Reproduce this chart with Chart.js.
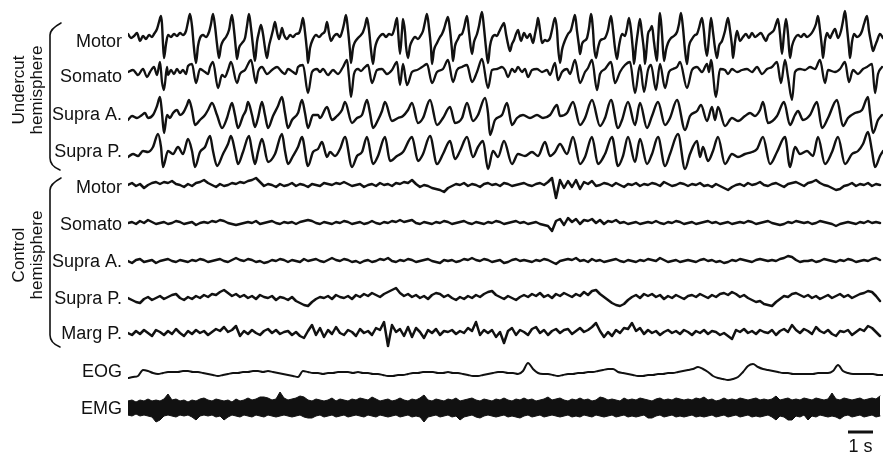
<!DOCTYPE html>
<html><head><meta charset="utf-8">
<script src="https://cdn.jsdelivr.net/npm/chart.js@4/dist/chart.umd.min.js"></script>
<style>html,body{margin:0;padding:0;background:#fff;}#wrap{width:892px;height:461px;}</style>
</head><body><div id="wrap"><canvas id="c" width="892" height="461"></canvas></div>
<script>
// ---- DATA (time in s, amplitude in arbitrary display units, up = positive) ----
const traceLabels = ['Motor','Somato','Supra A.','Supra P.','Motor','Somato','Supra A.','Supra P.','Marg P.','EOG','EMG'];
const groupLabels = [['Undercut','hemisphere'],['Control','hemisphere']];
const scaleBarLabel = '1 s';

// Undercut hemisphere: [time s, amplitude]
const uMotor = [[0,2],[0.12,-2],[0.24,0],[0.36,3],[0.48,-5],[0.6,0],[0.72,-3],[0.84,1],[0.96,-1],[1.04,2],[1.16,7],[1.24,14],[1.32,20],[1.36,12],[1.4,-8],[1.44,-22],[1.52,-8],[1.6,1],[1.72,-1],[1.84,2],[1.96,0],[2.08,3],[2.2,1],[2.32,5],[2.4,14],[2.48,22],[2.56,10],[2.64,-12],[2.72,-27],[2.8,-10],[2.88,-2],[3,1],[3.12,-1],[3.24,4],[3.32,12],[3.4,22],[3.48,10],[3.56,-8],[3.64,-22],[3.72,-10],[3.8,-5],[3.92,-1],[4.04,6],[4.16,21],[4.24,6],[4.32,-14],[4.36,-23],[4.44,-12],[4.56,-7],[4.68,-2],[4.76,10],[4.84,22],[4.92,8],[5,-10],[5.08,-25],[5.16,-6],[5.24,4],[5.32,11],[5.4,2],[5.48,-12],[5.56,-22],[5.64,-10],[5.72,-2],[5.8,6],[5.88,14],[5.96,4],[6.04,-3],[6.12,4],[6.16,8],[6.24,1],[6.36,-3],[6.48,1],[6.6,-1],[6.72,2],[6.84,3],[6.92,9],[7,18],[7.08,4],[7.16,-15],[7.2,-27],[7.28,-12],[7.4,-3],[7.52,1],[7.64,-1],[7.76,2],[7.88,5],[7.96,14],[8.04,3],[8.12,-5],[8.24,0],[8.36,2],[8.48,-1],[8.56,4],[8.64,12],[8.72,21],[8.8,6],[8.88,-15],[8.92,-27],[9,-12],[9.08,-6],[9.2,-2],[9.32,1],[9.4,4],[9.48,10],[9.56,18],[9.64,6],[9.72,-14],[9.8,-28],[9.88,-12],[9.96,-5],[10.08,0],[10.2,2],[10.32,-1],[10.44,2],[10.56,1],[10.64,6],[10.76,18],[10.8,6],[10.88,-18],[10.96,5],[11,17],[11.08,4],[11.12,-10],[11.2,-22],[11.28,-10],[11.36,-5],[11.48,-1],[11.6,-3],[11.72,1],[11.8,5],[11.88,14],[11.96,22],[12.04,8],[12.12,-12],[12.16,-28],[12.24,-14],[12.36,-7],[12.48,-1],[12.56,2],[12.64,7],[12.72,14],[12.8,19],[12.88,6],[12.96,-14],[13,-25],[13.08,-10],[13.2,-3],[13.28,1],[13.36,2],[13.44,8],[13.56,20],[13.64,4],[13.76,-18],[13.84,-6],[13.96,2],[14.04,10],[14.16,24],[14.24,8],[14.32,-12],[14.4,-27],[14.48,-10],[14.56,-2],[14.68,1],[14.76,0],[14.84,4],[14.96,10],[15.04,13],[15.12,2],[15.2,-8],[15.28,-15],[15.36,-8],[15.44,-4],[15.52,2],[15.6,6],[15.68,-2],[15.72,-5],[15.84,3],[15.96,-2],[16.08,2],[16.2,-7],[16.28,2],[16.36,12],[16.4,18],[16.48,6],[16.56,-7],[16.68,-4],[16.76,-5],[16.88,-2],[16.96,6],[17.08,18],[17.16,6],[17.2,-10],[17.28,-27],[17.36,-14],[17.44,-7],[17.52,-2],[17.6,2],[17.72,6],[17.8,14],[17.88,21],[17.96,5],[18.04,-10],[18.08,-18],[18.16,-8],[18.24,-5],[18.36,-2],[18.44,8],[18.52,22],[18.6,6],[18.64,-10],[18.72,-22],[18.8,-12],[18.88,-5],[19,-3],[19.08,-2],[19.2,6],[19.32,20],[19.4,6],[19.48,-12],[19.56,-23],[19.64,-10],[19.76,2],[19.88,0],[19.96,8],[20.04,18],[20.12,6],[20.2,-15],[20.24,-28],[20.32,-10],[20.4,5],[20.48,17],[20.56,2],[20.64,-15],[20.68,-28],[20.76,-8],[20.8,2],[20.88,6],[20.96,10],[21.04,-6],[21.16,-25],[21.2,-6],[21.28,23],[21.36,2],[21.44,-25],[21.52,-14],[21.6,-7],[21.72,-2],[21.84,0],[21.96,4],[22.04,12],[22.12,23],[22.2,8],[22.28,-14],[22.36,-28],[22.44,-10],[22.56,-3],[22.68,1],[22.76,2],[22.84,8],[22.96,18],[23.04,4],[23.08,-8],[23.16,-20],[23.24,-2],[23.32,18],[23.4,4],[23.48,-12],[23.56,-22],[23.64,-10],[23.76,-5],[23.88,5],[24,18],[24.08,6],[24.16,-10],[24.2,-22],[24.28,-6],[24.36,5],[24.48,-5],[24.6,-1],[24.72,2],[24.84,-2],[24.96,3],[25.08,-1],[25.2,1],[25.32,3],[25.44,-2],[25.52,-5],[25.6,0],[25.72,3],[25.84,6],[25.92,12],[26,17],[26.08,2],[26.16,-18],[26.24,2],[26.32,17],[26.4,2],[26.48,-22],[26.56,-10],[26.68,-2],[26.8,1],[26.92,-1],[27.04,2],[27.16,-1],[27.28,1],[27.4,5],[27.52,12],[27.6,20],[27.68,6],[27.76,-12],[27.8,-22],[27.88,-5],[27.96,3],[28.08,-2],[28.16,2],[28.28,7],[28.4,-2],[28.52,5],[28.6,15],[28.68,25],[28.76,8],[28.84,-12],[28.88,-22],[28.96,-6],[29.04,2],[29.16,-1],[29.28,1],[29.36,5],[29.44,12],[29.56,20],[29.64,5],[29.72,-6],[29.8,-15],[29.88,-10],[29.96,-5],[30.08,2],[30.2,-2]];

const uSomato = [[0,0],[0.2,2],[0.4,-3],[0.6,3],[0.76,-5],[0.88,0],[1.04,5],[1.16,-3],[1.28,10],[1.36,-10],[1.44,-18],[1.56,5],[1.6,-3],[1.72,2],[1.84,-2],[1.96,3],[2.08,-1],[2.2,2],[2.32,-2],[2.4,6],[2.56,8],[2.72,-11],[2.88,3],[3.08,0],[3.2,-2],[3.28,5],[3.4,10],[3.6,-16],[3.76,-3],[3.88,-5],[4,2],[4.12,10],[4.36,-11],[4.48,-2],[4.68,2],[4.92,12],[5.12,-11],[5.2,0],[5.36,5],[5.56,-2],[5.76,2],[5.96,5],[6.16,0],[6.28,-2],[6.4,3],[6.6,0],[6.72,-2],[6.8,5],[7,7],[7.2,-21],[7.36,0],[7.56,3],[7.68,0],[7.8,3],[8,-3],[8.2,2],[8.4,-2],[8.6,5],[8.76,12],[8.84,-5],[8.92,-25],[9.04,-2],[9.2,3],[9.32,1],[9.44,4],[9.6,7],[9.76,-11],[9.96,2],[10.16,3],[10.36,-2],[10.56,2],[10.76,10],[10.88,-13],[11,8],[11.16,-13],[11.36,0],[11.56,2],[11.76,5],[11.96,8],[12.16,-11],[12.36,0],[12.6,3],[12.8,12],[13,-10],[13.16,2],[13.36,5],[13.56,7],[13.76,-10],[13.96,0],[14.16,13],[14.4,-16],[14.56,2],[14.76,3],[14.96,5],[15.08,2],[15.2,-5],[15.36,3],[15.48,0],[15.6,5],[15.76,0],[15.88,3],[16,-5],[16.16,2],[16.36,3],[16.56,0],[16.76,2],[16.88,-3],[17.08,9],[17.2,-8],[17.36,0],[17.56,3],[17.68,-2],[17.88,12],[18.08,-11],[18.28,0],[18.4,4],[18.56,12],[18.76,-18],[18.88,-2],[19.08,3],[19.32,10],[19.48,-11],[19.68,0],[19.88,7],[20.08,10],[20.28,-21],[20.48,7],[20.64,-20],[20.8,2],[20.92,7],[21.12,-18],[21.28,8],[21.48,-16],[21.64,0],[21.8,3],[21.96,5],[22.08,10],[22.36,-16],[22.56,2],[22.76,5],[22.96,0],[23.16,8],[23.24,0],[23.32,12],[23.52,-25],[23.68,3],[23.88,2],[24,-2],[24.16,3],[24.36,0],[24.56,2],[24.76,3],[24.96,0],[25.16,5],[25.36,-2],[25.56,3],[25.76,5],[25.96,10],[26.12,-11],[26.28,12],[26.4,-5],[26.56,-28],[26.68,0],[26.88,3],[27.08,2],[27.28,5],[27.48,3],[27.68,12],[27.88,-11],[28,2],[28.28,0],[28.48,3],[28.68,10],[28.84,-10],[29,2],[29.2,-2],[29.4,3],[29.56,5],[29.76,8],[29.88,-21],[30,-2],[30.16,5]];

const uSupraA = [[0,-2],[0.16,2],[0.36,0],[0.56,3],[0.68,5],[0.8,0],[1,3],[1.16,12],[1.28,21],[1.36,5],[1.44,-15],[1.56,3],[1.68,0],[1.8,5],[1.96,8],[2.08,3],[2.2,5],[2.36,13],[2.44,18],[2.56,8],[2.68,-7],[2.88,-2],[3.08,3],[3.2,8],[3.36,15],[3.56,3],[3.76,-10],[3.96,0],[4.04,7],[4.16,15],[4.28,3],[4.4,-10],[4.6,2],[4.72,8],[4.8,16],[4.96,3],[5.08,-9],[5.2,0],[5.36,16],[5.48,3],[5.6,-10],[5.8,2],[6,12],[6.16,21],[6.28,5],[6.4,-10],[6.56,-2],[6.8,5],[6.96,18],[7.08,5],[7.2,-10],[7.4,3],[7.6,3],[7.68,0],[7.96,11],[8.16,-2],[8.36,2],[8.56,8],[8.68,16],[8.96,-5],[9.16,0],[9.36,3],[9.56,18],[9.68,5],[9.8,-10],[10,-2],[10.16,7],[10.28,16],[10.56,-3],[10.8,0],[11,2],[11.2,8],[11.36,15],[11.6,-5],[11.8,0],[12.08,18],[12.36,-7],[12.6,0],[12.88,11],[13.08,-5],[13.36,0],[13.56,15],[13.8,-3],[14,3],[14.28,20],[14.4,5],[14.48,-17],[14.68,-2],[14.96,3],[15.16,15],[15.36,-7],[15.56,0],[15.8,3],[16.08,0],[16.36,3],[16.6,0],[16.88,3],[17.16,13],[17.28,2],[17.56,5],[17.8,16],[18.08,-7],[18.28,0],[18.56,18],[18.88,-8],[19.08,0],[19.32,18],[19.6,-10],[19.76,-2],[20,16],[20.28,-7],[20.48,15],[20.76,-10],[20.96,2],[21.2,16],[21.48,-7],[21.68,0],[21.96,18],[22.28,-12],[22.48,2],[22.76,7],[22.92,13],[23.16,-3],[23.36,11],[23.48,-2],[23.6,11],[23.88,-8],[24.16,0],[24.4,-3],[24.68,2],[24.88,5],[25.08,2],[25.28,8],[25.4,16],[25.6,-5],[25.96,2],[26.24,16],[26.48,-7],[26.68,3],[26.8,7],[27,-2],[27.28,3],[27.56,16],[27.76,-10],[28,0],[28.36,18],[28.6,-8],[28.8,0],[29.08,5],[29.36,8],[29.6,21],[29.68,5],[29.8,-15],[30,-2],[30.16,3]];

const uSupraP = [[0,-3],[0.2,0],[0.4,-2],[0.6,3],[0.8,2],[1,7],[1.2,20],[1.32,7],[1.4,-13],[1.6,3],[1.8,0],[2,7],[2.2,0],[2.4,15],[2.56,3],[2.68,-13],[2.88,2],[3.08,7],[3.28,18],[3.4,3],[3.56,-12],[3.8,0],[4,10],[4.12,18],[4.28,3],[4.4,-10],[4.6,2],[4.84,18],[4.96,3],[5.08,-10],[5.2,2],[5.36,15],[5.6,-8],[5.88,0],[6.16,20],[6.28,3],[6.4,-10],[6.6,-2],[6.8,7],[6.96,17],[7.2,-12],[7.4,2],[7.6,5],[7.76,12],[7.96,-3],[8.08,2],[8.28,-2],[8.48,5],[8.68,17],[8.96,-13],[9.16,-2],[9.36,2],[9.56,17],[9.8,-10],[10,-2],[10.28,17],[10.48,-7],[10.76,-2],[11,2],[11.36,17],[11.6,-7],[11.8,0],[12.08,18],[12.36,-10],[12.6,0],[12.88,13],[13.08,-5],[13.28,3],[13.56,17],[13.8,-3],[14,7],[14.2,13],[14.4,-15],[14.6,3],[14.8,-3],[15.04,13],[15.36,-10],[15.6,0],[15.88,-2],[16.16,2],[16.4,-2],[16.68,12],[16.88,-2],[17.08,2],[17.28,10],[17.56,0],[17.8,17],[18.08,-10],[18.28,-3],[18.56,17],[18.8,-10],[19.08,0],[19.36,17],[19.6,-12],[19.8,-2],[20,17],[20.28,-8],[20.48,15],[20.76,-10],[20.96,0],[21.2,17],[21.48,-12],[21.68,0],[22,20],[22.28,-15],[22.48,0],[22.76,13],[22.88,-3],[23,7],[23.2,-7],[23.4,3],[23.6,17],[23.88,-10],[24.16,0],[24.4,-3],[24.68,0],[24.96,2],[25.16,5],[25.4,17],[25.68,-10],[25.96,2],[26.28,17],[26.48,-13],[26.68,7],[26.88,0],[27.16,3],[27.4,-2],[27.6,17],[27.88,-10],[28.16,2],[28.4,17],[28.68,-10],[28.96,0],[29.2,3],[29.4,10],[29.6,22],[29.76,3],[29.88,-13],[30.08,-2],[30.2,3]];

// Control hemisphere: uniformly sampled, one value every 0.16 s
const ctrlDt = 0.16;
const cMotor = [0,2,-1,1,-3,0,2,3,1,3, 2,4,1,0,-2,1,-1,2,3,5, 2,0,-2,1,-1,0,2,1,3,2, 4,5,7,3,-1,1,0,-2,1,-1, 0,2,-1,1,0,-2,1,0,-1,2, 1,0,2,1,3,1,-1,0,1,-2, 0,1,-1,2,0,1,-1,2,1,3, 2,5,1,-2,0,-1,-3,-4,-5,-7, -3,-1,1,0,2,-1,1,0,-2,1, 2,0,1,-1,2,1,-1,0,1,2, 0,-1,1,2,0,3,7,-13,5,-3, 4,-2,5,-4,3,1,4,-1,0,2, 1,-1,2,0,-2,1,0,2,-1,1, 0,2,1,-1,3,1,-1,0,2,1, -1,1,0,2,-1,0,-2,1,-1,-3, -5,-2,0,1,-1,2,0,1,3,0, -1,1,2,0,-2,1,2,3,1,-1, 2,3,5,2,0,-1,-3,-5,-4,-1, 0,2,-1,1,0,2,-1,1,0];
const cSomato = [0,1,-1,2,0,3,1,-1,0,1, -1,0,2,1,-1,0,1,-2,0,1, 0,2,1,3,2,0,-1,-2,-1,0, 1,0,2,-1,0,1,2,0,-1,1, 0,1,-1,1,2,3,2,0,-1,1, 0,-1,1,0,2,1,-1,0,1,-1, 0,2,0,-1,1,0,2,1,3,1, 2,3,0,-1,1,0,-1,1,0,2, 1,-1,0,1,2,0,-1,1,0,-1, 1,0,2,1,-1,0,1,2,0,1, -1,0,1,-1,-2,-3,-8,2,4,-2, 5,1,4,-1,3,2,4,0,3,-1, 2,1,3,0,1,-1,0,1,-1,0, 1,0,2,0,-1,1,0,2,1,-1, 0,1,-1,0,1,2,0,1,-1,0, 1,-1,0,1,0,2,1,-1,0,1, 2,0,-1,-2,-1,1,0,2,1,0, 1,-1,0,2,1,0,-1,-3,-1,0, 1,0,-1,1,0,2,0,1,0];
const cSupraA = [0,-2,1,2,-1,0,1,-2,0,1, 2,0,-1,1,0,-1,1,0,2,1, -1,0,1,2,0,-1,1,3,1,0, 2,1,-1,0,-2,-1,1,0,2,1, -1,1,0,-1,2,0,1,2,0,-1, 1,3,1,0,2,1,-1,0,-2,0, 1,-1,0,2,1,3,0,-1,1,0, 2,1,-1,0,1,2,0,-1,-2,1, 0,1,-1,0,2,1,3,1,0,2, 1,-1,0,1,-2,-1,1,2,0,1, 0,-1,1,0,2,1,-1,-3,0,1, 2,1,3,0,1,-1,2,0,1,-1, 0,1,2,0,-1,1,0,-1,1,0, 2,1,0,3,1,-1,0,1,-1,0, 1,0,-1,1,2,0,1,-1,0,-2, -1,1,0,2,1,0,-1,1,2,1, 0,1,0,2,3,5,4,1,-1,0, 0,1,-1,0,2,1,0,-1,1,0, 2,1,-1,0,1,0,2,3,1];
const cSupraP = [0,-2,-4,-5,-1,1,-2,0,2,-1, 1,3,4,0,-2,1,-1,2,0,3, 1,4,3,6,8,5,2,4,1,3, 0,2,-1,3,1,0,2,-2,1,0, -2,1,-3,-5,-7,-8,-4,-1,1,0, 2,-1,3,1,0,2,-1,3,1,4, 2,5,3,1,4,6,8,10,5,2, 4,1,3,0,2,-1,3,5,4,1, 3,0,-2,1,-1,2,0,3,1,4, 6,7,3,1,-1,2,0,-2,1,3, 1,4,2,5,1,3,0,4,2,5, 3,1,4,2,6,3,7,8,4,1, -2,-5,-7,-8,-6,-2,1,3,0,4, 2,4,1,3,-1,2,0,3,1,-1, 2,3,1,4,2,0,3,1,4,5, 3,6,4,1,3,0,-2,-4,-3,-6, -7,-8,-4,-1,2,1,4,5,3,1, 3,0,2,-1,1,3,0,2,4,1, 3,0,2,4,5,7,6,2,-3];
const cMargP = [0,-2,2,-1,3,0,-3,3,1,-2, 2,-1,4,0,-3,2,-1,3,0,2, -2,1,4,2,6,1,3,7,-3,2, -1,3,0,-2,2,4,0,3,-1,1, 2,-2,1,-3,-5,2,8,-2,5,-4, 3,-1,6,0,-2,3,1,-3,4,0, 2,-2,5,3,11,-13,8,1,4,-3, 6,-4,5,1,-5,3,0,4,-2,2, 1,3,-1,2,0,5,2,11,-2,3, 0,3,-4,1,-10,2,5,-2,3,1, -2,4,6,0,3,-2,2,4,0,3, 4,-1,2,5,1,3,6,10,2,-4, 1,-3,3,0,5,4,10,2,5,-1, 3,0,2,-2,1,3,0,2,-1,3, 1,-2,2,0,3,-1,2,1,-2,0, -3,-6,3,1,4,0,2,-1,3,1, 0,3,-2,2,4,1,8,3,0,4, 2,-1,6,2,0,3,-1,-3,2,1, 3,-2,1,4,2,7,5,1,-3];

// EOG: one value every 0.2 s
const eogDt = 0.2;
const eog = [-5,-4,-3,3,2,0,-1,0,1,1, 1,2,2,1,1,0,-1,-2,-3,-2, -1,0,0,1,1,2,2,1,2,1, 0,-1,-2,-3,-4,2,1,0,0,-1, 0,0,1,1,1,0,1,0,0,-1, -1,-2,-3,-3,-2,-2,-1,0,0,1, 1,1,0,0,1,0,0,-1,-2,-3, -3,-2,-1,0,1,1,0,0,-1,2, 10,4,0,-1,-1,-2,-3,-2,-1,-1, 0,0,1,1,2,3,4,4,1,0, -1,-2,-3,-3,-2,-2,-1,-1,0,0, 1,2,3,4,6,4,1,-3,-5,-6, -7,-6,-4,1,7,9,6,4,3,2, 1,0,0,-1,-1,-1,-1,-1,0,0, 0,2,8,2,0,-1,-1,-1,-1,-1, -2,-2];

// EMG: upper / lower envelope, one value every 0.16 s
const emgDt = 0.16;
const emgUpper = [7,8,6,8,7,9,7,8,7,9, 14,8,9,7,8,6,8,7,9,10, 8,7,9,8,7,8,6,9,7,8, 10,8,9,11,11,10,8,9,16,10, 8,9,10,12,11,8,7,9,8,7, 8,10,7,9,8,7,9,8,10,9, 8,11,9,7,8,9,7,8,10,8, 7,9,8,10,13,8,7,9,8,7, 9,8,10,7,8,9,10,8,7,9, 8,7,9,8,10,8,7,9,8,10, 8,9,7,8,9,11,8,9,10,8, 7,9,8,10,8,9,7,8,11,10, 8,9,8,7,10,8,9,8,10,9, 8,7,9,10,8,9,8,10,9,8, 9,8,10,9,11,8,9,7,8,10, 8,9,8,10,9,8,9,10,8,9, 8,9,12,8,9,10,8,9,8,10, 9,8,10,9,8,9,15,9,8,10, 9,8,9,10,8,9,10,9,12];
const emgLower = [-7,-8,-6,-8,-7,-8,-9,-14,-12,-8, -7,-8,-9,-7,-8,-7,-9,-12,-8,-7, -8,-7,-9,-8,-12,-9,-7,-8,-9,-7, -8,-9,-7,-8,-9,-7,-8,-9,-8,-7, -8,-9,-8,-7,-9,-10,-10,-8,-7,-9, -8,-7,-9,-8,-7,-9,-8,-7,-8,-9, -7,-8,-9,-7,-8,-9,-8,-7,-9,-8, -7,-9,-8,-9,-14,-9,-8,-7,-9,-8, -7,-9,-8,-12,-9,-8,-7,-9,-10,-8, -7,-8,-9,-8,-7,-9,-8,-9,-10,-8, -7,-9,-8,-7,-9,-8,-7,-8,-9,-8, -7,-9,-8,-9,-7,-8,-9,-7,-8,-9, -8,-7,-9,-8,-7,-9,-8,-9,-8,-7, -10,-10,-8,-7,-9,-8,-7,-9,-8,-9, -8,-7,-9,-8,-9,-8,-7,-9,-8,-7, -9,-8,-7,-9,-8,-7,-9,-8,-9,-8, -7,-9,-12,-8,-9,-12,-12,-8,-9,-7, -12,-8,-9,-7,-8,-9,-8,-9,-11,-8, -7,-9,-8,-7,-9,-8,-7,-9,-8];

// ---- LAYOUT (not data) ----
const rowBase = [36, 72, 118, 154, 185, 223, 261, 298, 333, 373, 408];
const labelY  = [42, 77, 115, 152, 188, 225, 262, 299, 334, 372, 409];
const T_END = 30.2;
const scaleBarStart = 28.8;
const FONT = '"Liberation Sans", Arial, Helvetica, sans-serif';
const INK = '#111';

function pairs(arr, row){ return arr.map(([t,v]) => ({x:t, y: rowBase[row] - v})); }
function uniform(arr, dt, row){ return arr.map((v,k) => ({x:k*dt, y: rowBase[row] - v})); }
function lineDs(data, w, smooth){
  return {data, borderColor: INK, borderWidth: w, fill: false, pointRadius: 0,
          cubicInterpolationMode: smooth ? 'monotone' : 'default', tension: 0};
}

const datasets = [
  lineDs(pairs(uMotor,0), 2.4, true),
  lineDs(pairs(uSomato,1), 2.3, true),
  lineDs(pairs(uSupraA,2), 2.4, true),
  lineDs(pairs(uSupraP,3), 2.4, true),
  lineDs(uniform(cMotor, ctrlDt, 4), 2.5, false),
  lineDs(uniform(cSomato, ctrlDt, 5), 2.5, false),
  lineDs(uniform(cSupraA, ctrlDt, 6), 2.5, false),
  lineDs(uniform(cSupraP, ctrlDt, 7), 2.5, false),
  lineDs(uniform(cMargP, ctrlDt, 8), 2.5, false),
  lineDs(uniform(eog, eogDt, 9), 2, true),
  {data: uniform(emgUpper, emgDt, 10), borderColor: INK, borderWidth: 1, pointRadius: 0, fill: '+1', backgroundColor: INK},
  {data: uniform(emgLower, emgDt, 10), borderColor: INK, borderWidth: 1, pointRadius: 0, fill: false}
];

const annot = {
  id: 'annot',
  afterDraw(chart){
    const ctx = chart.ctx, xs = chart.scales.x;
    ctx.save();
    ctx.fillStyle = INK; ctx.strokeStyle = INK;
    // trace labels
    ctx.font = '18px ' + FONT;
    ctx.textAlign = 'right'; ctx.textBaseline = 'middle';
    traceLabels.forEach((s,i) => ctx.fillText(s, 122, labelY[i]));
    // group labels (rotated)
    ctx.font = '17px ' + FONT;
    ctx.textAlign = 'center'; ctx.textBaseline = 'alphabetic';
    [[90, groupLabels[0]], [255, groupLabels[1]]].forEach(([cy, lines]) => {
      ctx.save(); ctx.translate(24, cy); ctx.rotate(-Math.PI/2);
      ctx.fillText(lines[0], 0, 0); ctx.fillText(lines[1], 0, 18);
      ctx.restore();
    });
    // braces
    ctx.lineWidth = 1.6; ctx.lineCap = 'round';
    [[23, 170], [178, 347]].forEach(([top, bot]) => {
      ctx.beginPath();
      ctx.moveTo(61, top);
      ctx.quadraticCurveTo(50, top + 6, 50, top + 12);
      ctx.lineTo(50, bot - 12);
      ctx.quadraticCurveTo(50, bot - 4, 60, bot);
      ctx.stroke();
    });
    // scale bar
    const x0 = xs.getPixelForValue(scaleBarStart), x1 = xs.getPixelForValue(scaleBarStart + 1);
    ctx.lineWidth = 3; ctx.lineCap = 'butt';
    ctx.beginPath(); ctx.moveTo(x0, 432); ctx.lineTo(x1, 432); ctx.stroke();
    ctx.font = '18px ' + FONT; ctx.textAlign = 'center'; ctx.textBaseline = 'alphabetic';
    ctx.fillText(scaleBarLabel, (x0 + x1) / 2, 452);
    ctx.restore();
  }
};

new Chart(document.getElementById('c'), {
  type: 'line',
  data: { datasets },
  options: {
    responsive: false, animation: false, devicePixelRatio: 1,
    layout: { padding: { left: 128, right: 9, top: 0, bottom: 0 } },
    scales: {
      x: { type: 'linear', min: 0, max: T_END, display: false },
      y: { type: 'linear', min: 0, max: 461, reverse: true, display: false }
    },
    plugins: { legend: { display: false }, tooltip: { enabled: false } },
    elements: { point: { radius: 0 }, line: { tension: 0, borderJoinStyle: 'round', borderCapStyle: 'round' } }
  },
  plugins: [annot]
});
</script></body></html>
